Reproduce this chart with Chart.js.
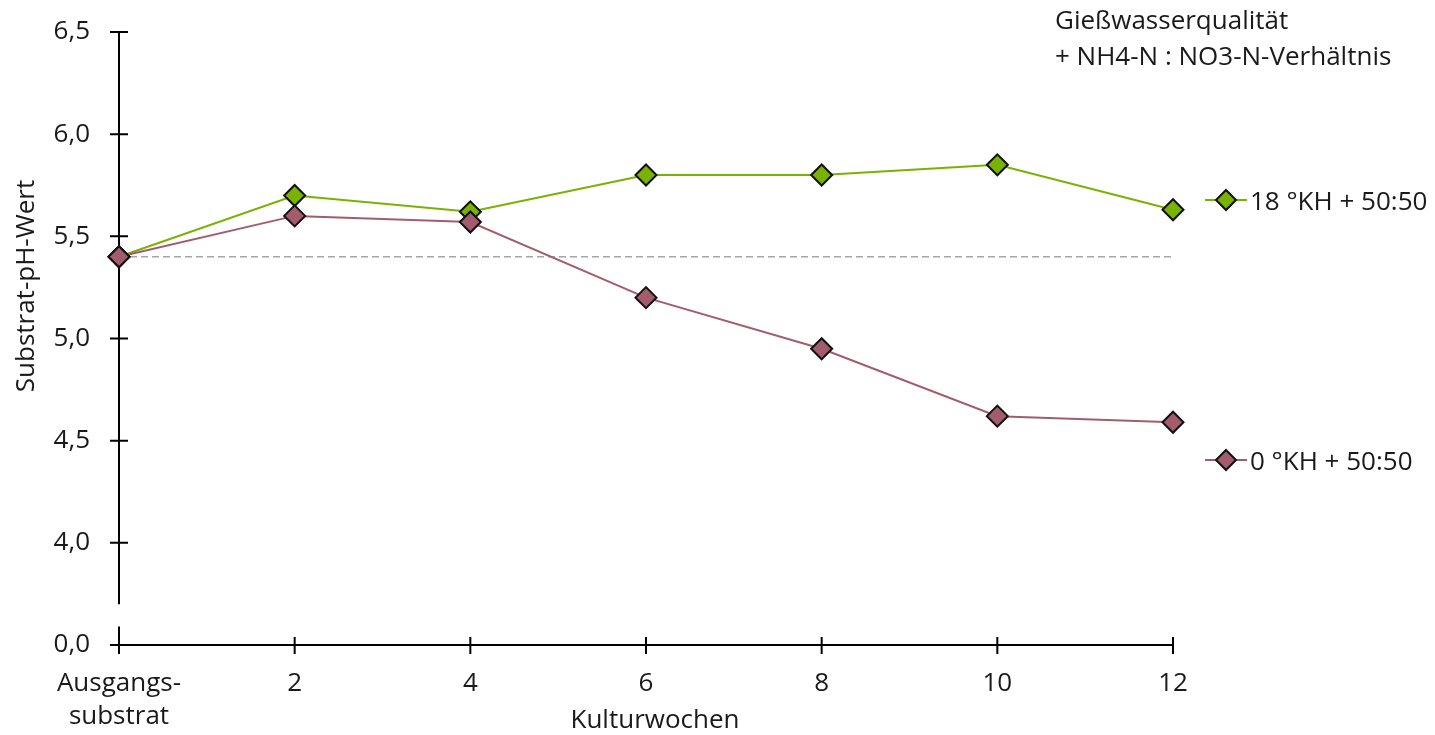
<!DOCTYPE html>
<html>
<head>
<meta charset="utf-8">
<script src="https://cdn.jsdelivr.net/npm/chart.js@4/dist/chart.umd.min.js"></script>
<style>
  body { margin: 0; background: #fff; font-family: "Open Sans", sans-serif; color: #1a1a1a; }
  .wrap { position: relative; width: 1435px; height: 735px; }
  .txt { position: absolute; font-size: 26px; white-space: nowrap; }
</style>
</head>
<body>
<div class="wrap">
  <canvas id="chart" width="1435" height="735"></canvas>
  <div class="txt" style="left:1055px; top:1px; line-height:36px;">Gießwasserqualität<br>+ NH4-N : NO3-N-Verhältnis</div>
  <div class="txt" style="left:1250px; top:184px; line-height:32px;">18 °KH + 50:50</div>
  <div class="txt" style="left:1250px; top:444px; line-height:32px;">0 °KH + 50:50</div>
  <div class="txt" style="left:505px; width:300px; text-align:center; top:702px; line-height:32px;">Kulturwochen</div>
  <div class="txt" style="left:-126px; width:300px; text-align:center; top:270px; line-height:32px; transform:rotate(-90deg);">Substrat-pH-Wert</div>
</div>
<script>
const weeks = [0, 2, 4, 6, 8, 10, 12];
const khHard = [5.4, 5.7, 5.62, 5.8, 5.8, 5.85, 5.63];
const khSoft = [5.4, 5.6, 5.57, 5.2, 4.95, 4.62, 4.59];
const yTicks = [3.5, 4.0, 4.5, 5.0, 5.5, 6.0, 6.5];
const startValue = 5.4;

const green = "#77b300";
const red = "#a35c6d";

// y axis is broken: the lowest tick stands for 0,0
const fmt = (v) => (v === 3.5 ? 0 : v).toFixed(1).replace(".", ",");

const axesPlugin = {
  id: "axes",
  beforeDatasetsDraw(chart) {
    const { ctx, scales: { x, y } } = chart;
    const x0 = x.getPixelForValue(0);
    const x1 = x.getPixelForValue(12);
    const yb = y.getPixelForValue(3.5);
    ctx.save();
    // dashed reference line
    ctx.strokeStyle = "#a6a6a6";
    ctx.lineWidth = 1.3;
    ctx.setLineDash([7, 4]);
    const yr = y.getPixelForValue(startValue);
    ctx.beginPath();
    ctx.moveTo(x0, yr);
    ctx.lineTo(x1, yr);
    ctx.stroke();
    ctx.setLineDash([]);

    ctx.strokeStyle = "#000";
    ctx.lineWidth = 2;
    ctx.beginPath();
    // y axis, upper part
    ctx.moveTo(x0, y.getPixelForValue(6.5));
    ctx.lineTo(x0, y.getPixelForValue(3.7));
    // y axis, lower part
    ctx.moveTo(x0, y.getPixelForValue(3.59));
    ctx.lineTo(x0, yb + 9);
    // x axis
    ctx.moveTo(x0 - 9, yb);
    ctx.lineTo(x1, yb);
    yTicks.forEach((t) => {
      const p = y.getPixelForValue(t);
      ctx.moveTo(x0 - 9, p);
      ctx.lineTo(x0 + 9, p);
    });
    weeks.slice(1).forEach((w) => {
      const p = x.getPixelForValue(w);
      ctx.moveTo(p, yb - 8);
      ctx.lineTo(p, yb + 9);
    });
    ctx.stroke();

    // legend keys
    [[green, 200], [red, 460]].forEach(([c, ly]) => {
      ctx.strokeStyle = c;
      ctx.lineWidth = 2;
      ctx.beginPath();
      ctx.moveTo(1205, ly);
      ctx.lineTo(1247, ly);
      ctx.stroke();
      ctx.fillStyle = c;
      ctx.strokeStyle = "#111";
      ctx.lineWidth = 2;
      ctx.beginPath();
      ctx.moveTo(1226, ly - 10);
      ctx.lineTo(1236, ly);
      ctx.lineTo(1226, ly + 10);
      ctx.lineTo(1216, ly);
      ctx.closePath();
      ctx.fill();
      ctx.stroke();
    });
    ctx.restore();
  },
};

const series = (data, color) => ({
  data: weeks.map((w, i) => ({ x: w, y: data[i] })),
  borderColor: color,
  borderWidth: 2,
  backgroundColor: color,
  pointStyle: "rectRot",
  pointRadius: 10.5,
  pointBorderColor: "#111",
  pointBorderWidth: 2,
  pointHoverRadius: 10.5,
  clip: false,
});

new Chart(document.getElementById("chart"), {
  type: "line",
  data: {
    datasets: [series(khSoft, red), series(khHard, green)],
  },
  options: {
    responsive: false,
    animation: false,
    layout: { padding: { left: 0, right: 262, top: 32, bottom: 0 } },
    plugins: { legend: { display: false }, tooltip: { enabled: false } },
    scales: {
      x: {
        type: "linear",
        min: 0,
        max: 12,
        afterFit: (s) => { s.height = 90; s.paddingLeft = 0; s.paddingRight = 0; },
        afterBuildTicks: (s) => { s.ticks = weeks.map((v) => ({ value: v })); },
        grid: { display: false, drawTicks: false },
        border: { display: false },
        ticks: {
          padding: 22,
          color: "#1a1a1a",
          font: { family: "Open Sans", size: 26, lineHeight: 1.27 },
          maxRotation: 0,
          callback: (v) => (v === 0 ? ["Ausgangs-", "substrat"] : String(v)),
        },
      },
      y: {
        min: 3.5,
        max: 6.5,
        afterFit: (s) => { s.width = 119; s.paddingTop = 0; s.paddingBottom = 0; },
        afterBuildTicks: (s) => { s.ticks = yTicks.map((v) => ({ value: v })); },
        grid: { display: false, drawTicks: false },
        border: { display: false },
        ticks: {
          padding: 29,
          color: "#1a1a1a",
          font: { family: "Open Sans", size: 26 },
          callback: (v) => fmt(v),
        },
      },
    },
  },
  plugins: [axesPlugin],
});
</script>
</body>
</html>
